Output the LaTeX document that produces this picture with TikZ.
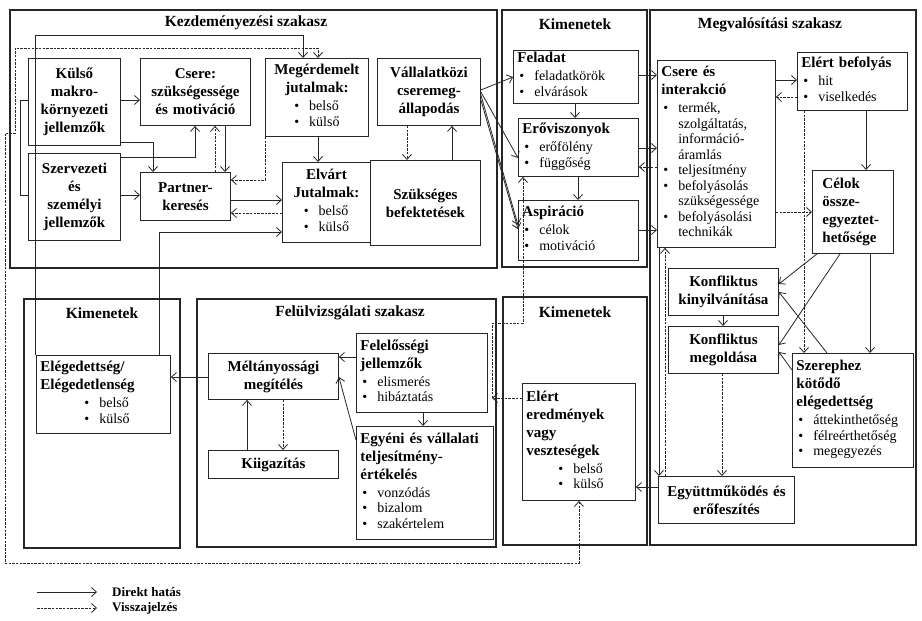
\documentclass[tikz,border=0pt]{standalone}
\usepackage{fontspec}
\setmainfont{Liberation Serif}
\usetikzlibrary{arrows.meta}
\setlength\parindent{0pt}
\newcommand\bl[1]{{\fontsize{14}{15.5}\mdseries\selectfont\begin{tabular}[t]{@{}l@{\hspace{10pt}}l@{}}#1\end{tabular}}}
\newcommand\bu{\textbullet&}
\newcommand\bx[7]{\node[box,align=#6,text width=#4pt,minimum height=#5pt] (#1) at (#2,#3) {#7};}
\tikzset{
 box/.style={draw=black!85,line width=0.9pt,anchor=north west,inner xsep=4pt,inner ysep=2pt,font=\fontsize{15}{18}\bfseries\selectfont},
 frame/.style={draw=black!85,line width=1.1pt},
 ttl/.style={font=\fontsize{15.5}{18}\bfseries\selectfont,inner sep=0pt},
 leg/.style={font=\fontsize{13}{16}\bfseries\selectfont,inner sep=0pt,anchor=west},
 di/.style={draw=black!85,line width=0.8pt,-{Straight Barb[length=5pt,width=9pt]}},
 fb/.style={di,dash pattern=on 2.5pt off 1.2pt},
 ln/.style={draw=black!85,line width=0.8pt},
}
\begin{document}
\begin{tikzpicture}[x=1pt,y=-1pt]
\useasboundingbox (0,0) rectangle (922,621);
% frames
\draw[frame] (10,10) rectangle (497,268);
\draw[frame] (502,10) rectangle (647,267);
\draw[frame] (650,10) rectangle (916,545);
\draw[frame] (24,299) rectangle (180,548);
\draw[frame] (197,299) rectangle (496,547);
\draw[frame] (503,297) rectangle (647,545);
\node[ttl] (t1) at (246,23) {Kezdeményezési szakasz};
\node[ttl] (t2) at (575,24) {Kimenetek};
\node[ttl] (t3) at (770,25) {Megvalósítási szakasz};
\node[ttl] (t4) at (102,313) {Kimenetek};
\node[ttl] (t5) at (350,313) {Felülvizsgálati szakasz};
\node[ttl] (t6) at (575,312) {Kimenetek};
% boxes
\bx{kulso}{28}{58}{84}{87}{center}{Külső\\makro-\\környezeti\\jellemzők}
\bx{csere1}{140}{58}{102}{67}{center}{Csere:\\szükségessége\\és motiváció}
\bx{megerd}{265}{58}{95}{78}{center}{Megérdemelt\\jutalmak:\par\bl{\bu belső\\ \bu külső}}
\bx{vall}{377}{58}{95}{67}{center}{Vállalatközi\\cseremeg-\\állapodás}
\bx{szerv}{28}{153}{84}{87}{center}{Szervezeti\\és\\személyi\\jellemzők}
\bx{partner}{140}{172}{82}{48}{center}{Partner-\\keresés}
\bx{elvart}{282}{162}{80}{80}{center}{Elvárt\\Jutalmak:\par\bl{\bu belső\\ \bu külső}}
\bx{szuks}{370}{160}{102}{85}{center}{Szükséges\\befektetések}
\bx{feladat}{513}{50}{117}{52}{left}{Feladat\par\hspace*{2pt}\bl{\bu feladatkörök\\ \bu elvárások}}
\bx{erov}{518}{118}{112}{58}{left}{Erőviszonyok\par\hspace*{2pt}\bl{\bu erőfölény\\ \bu függőség}}
\bx{aspir}{518}{200}{112}{60}{left}{Aspiráció\par\hspace*{2pt}\bl{\bu célok\\ \bu motiváció}}
\bx{csere2}{657}{60}{110}{187}{left}{Csere és\\interakció\par\hspace*{2pt}\bl{\bu termék,\\ & szolgáltatás,\\ & információ-\\ & áramlás\\ \bu teljesítmény\\ \bu befolyásolás\\ & szükségessége\\ \bu befolyásolási\\ & technikák}}
\bx{elbef}{797}{52}{102}{58}{left}{Elért befolyás\par\hspace*{2pt}\bl{\bu hit\\ \bu viselkedés}}
\bx{celok}{812}{170}{73}{83}{left}{\hspace*{6pt}Célok\\\hspace*{6pt}össze-\\\hspace*{6pt}egyeztet-\\\hspace*{6pt}hetősége}
\bx{konf1}{668}{268}{102}{47}{center}{Konfliktus\\kinyilvánítása}
\bx{konf2}{668}{326}{102}{47}{center}{Konfliktus\\megoldása}
\bx{szerep}{792}{353}{113}{114}{left}{Szerephez\\kötődő\\elégedettség\par\hspace*{2pt}\bl{\bu áttekinthetőség\\ \bu félreérthetőség\\ \bu megegyezés}}
\bx{egyutt}{658}{476}{128}{47}{center}{Együttműködés és\\erőfeszítés}
\bx{eleg}{36}{355}{126}{78}{left}{Elégedettség/\\Elégedetlenség\par\hspace*{44pt}\bl{\bu belső\\ \bu külső}}
\bx{meltany}{208}{353}{122}{46}{center}{Méltányossági\\megítélés}
\bx{kiig}{208}{450}{122}{28}{center}{Kiigazítás}
\bx{felel}{356}{333}{123}{79}{left}{Felelősségi\\jellemzők\par\hspace*{2pt}\bl{\bu elismerés\\ \bu hibáztatás}}
\bx{egyeni}{356}{426}{129}{113}{left}{Egyéni és vállalati\\teljesítmény-\\értékelés\par\hspace*{2pt}\bl{\bu vonzódás\\ \bu bizalom\\ \bu szakértelem}}
\bx{elert}{522}{383}{105}{117}{left}{Elért\\eredmények\\vagy\\veszteségek\par\hspace*{32pt}\bl{\bu belső\\ \bu külső}}
% coordinates
\coordinate (j1) at (492,398);
% Kezdemenyezesi connectors
\draw[di] (kulso.east |- 0,100) -- (csere1.west |- 0,100);
\draw[di] (kulso.east |- 0,142) -| (153,0 |- partner.north);
\draw[di] (szerv.east |- 0,157) -| (195,0 |- csere1.south);
\draw[di] (szerv.east |- 0,195) -- (partner.west |- 0,195);
\draw[fb] (215,0 |- partner.north) -- (215,0 |- csere1.south);
\draw[di] (225,0 |- csere1.south) -- (225,0 |- partner.north);
\draw[fb] (megerd.south west) |- (partner.east |- 0,180);
\draw[di] (318,0 |- megerd.south) -- (318,0 |- elvart.north);
\draw[di] (partner.east |- 0,200) -- (elvart.west |- 0,200);
\draw[fb] (elvart.west |- 0,213) -- (partner.east |- 0,213);
\draw[fb] (407,0 |- vall.south) -- (407,0 |- szuks.north);
\draw[di] (452,0 |- szuks.north) -- (452,0 |- vall.south);
\draw[ln] (kulso.west |- 0,100) -- (20,100) |- (szerv.west |- 0,195);
\draw[di] (35,0 |- eleg.north) -- (35,35) -| (303,0 |- megerd.north);
\draw[di] (159,0 |- eleg.north) |- (elvart.west |- 0,232);
\draw[fb,{Straight Barb[length=5pt,width=9pt]}-{Straight Barb[length=5pt,width=9pt]}] (elert.south) |- (5,563) -- (5,133) -- (15,133) -- (15,48) -| (318,0 |- megerd.north);
% to Kimenetek
\draw[di] (vall.east |- 0,90) -- (feladat.west |- 0,77);
\draw[di] (vall.east |- 0,92) -- (erov.west |- 0,158);
\draw[di] (vall.east |- 0,95) -- (aspir.west |- 0,225);
\draw[di] (vall.east |- 0,100) -- (aspir.west |- 0,229);
\draw[di] (575,0 |- feladat.south) -- (575,0 |- erov.north);
\draw[di] (578,0 |- erov.south) -- (578,0 |- aspir.north);
\draw[fb] (elert.west |- j1) -- (j1);
\draw[fb] (j1) -- (492,323) -| (523,0 |- erov.south);
% to Megvalositasi
\draw[di] (feladat.east |- 0,75) -- (csere2.west |- 0,75);
\draw[di] (erov.east |- 0,148) -- (csere2.west |- 0,148);
\draw[fb] (csere2.west |- 0,167) -- (erov.east |- 0,167);
\draw[di] (aspir.east |- 0,230) -- (csere2.west |- 0,230);
% Megvalositasi
\draw[di] (csere2.east |- 0,80) -- (elbef.west |- 0,80);
\draw[fb] (elbef.west |- 0,97) -- (csere2.east |- 0,97);
\draw[di] (866,0 |- elbef.south) -- (866,0 |- celok.north);
\draw[fb] (csere2.east |- 0,212) -- (celok.west |- 0,212);
\draw[fb] (804,0 |- elbef.south) -- (804,0 |- szerep.north);
\draw[di] (870,0 |- celok.south) -- (870,0 |- szerep.north);
\draw[di] (817,0 |- celok.south) -- (konf1.east |- 0,284);
\draw[di] (840,0 |- celok.south) -- (konf2.east |- 0,345);
\draw[di] (827,0 |- szerep.north) -- (konf1.east |- 0,292);
\draw[di] (szerep.west |- 0,370) -- (konf2.east |- 0,352);
\draw[di] (723,0 |- konf1.south) -- (723,0 |- konf2.north);
\draw[fb] (722,0 |- konf2.south) -- (722,0 |- egyutt.north);
\draw[di] (659,0 |- csere2.south) -- (659,0 |- egyutt.north);
\draw[fb] (665,0 |- egyutt.north) -- (665,0 |- csere2.south);
\draw[di] (egyutt.west |- 0,487) -- (elert.east |- 0,487);
% Felulvizsgalati
\draw[di] (felel.west |- 0,357) -- (meltany.east |- 0,357);
\draw[di] (egyeni.west |- 0,440) -- (meltany.east |- 0,377);
\draw[di] (423,0 |- felel.south) -- (423,0 |- egyeni.north);
\draw[fb] (283,0 |- meltany.south) -- (283,0 |- kiig.north);
\draw[di] (247,0 |- kiig.north) -- (247,0 |- meltany.south);
\draw[di] (meltany.west |- 0,377) -- (eleg.east |- 0,377);
% legend
\coordinate (la1) at (37,592); \coordinate (la2) at (97,592);
\coordinate (lb1) at (37,608); \coordinate (lb2) at (97,608);
\draw[di] (la1) -- (la2);
\draw[fb] (lb1) -- (lb2);
\node[leg] (leg1) at (112,592) {Direkt hatás};
\node[leg] (leg2) at (112,608) {Visszajelzés};
\end{tikzpicture}
\end{document}
